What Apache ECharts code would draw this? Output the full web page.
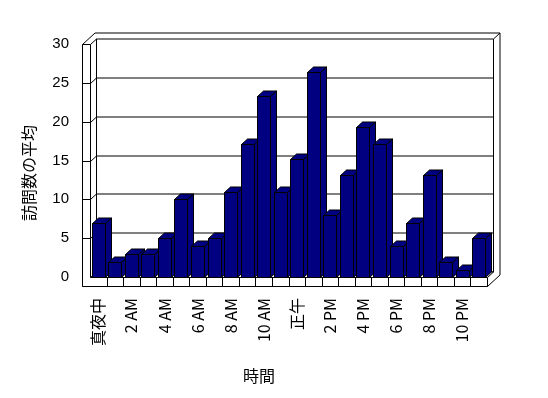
<!DOCTYPE html>
<html>
<head>
<meta charset="utf-8">
<script src="https://cdn.jsdelivr.net/npm/echarts@6/dist/echarts.min.js"></script>
<style>
html,body{margin:0;padding:0;background:#fff;}
#chart{width:548px;height:398px;}
</style>
</head>
<body>
<div id="chart"></div>
<script>
// ---- data ----
const hours = ['真夜中','1 AM','2 AM','3 AM','4 AM','5 AM','6 AM','7 AM','8 AM','9 AM','10 AM','11 AM',
               '正午','1 PM','2 PM','3 PM','4 PM','5 PM','6 PM','7 PM','8 PM','9 PM','10 PM','11 PM'];
const avgVisits = [7, 1.9, 2.9, 2.9, 5, 10, 4, 5, 11, 17.1, 23.3, 11,
                   15.2, 26.4, 8, 13.1, 19.3, 17.1, 4, 7, 13.1, 1.9, 0.9, 5];
const yTicks = [0, 5, 10, 15, 20, 25, 30];
const xTitle = '時間';
const yTitle = '訪問数の平均';

// ---- style constants ----
const BAR = '#000080';
const DX = 6, DY = -5.5;     // depth of the plot box
const BX = 6.5, BY = -6;     // back wall thickness
const SW = 8, SH = 9;        // left wall / floor slab thickness
const px = v => Math.round(v) + 0.5;
const lineStyle = {stroke:'#000', lineWidth:1, fill:null};

const chart = echarts.init(document.getElementById('chart'), null, {renderer:'canvas'});

function frameItem(params, api) {
  const cs = params.coordSys;
  const L = px(cs.x), R = px(cs.x + cs.width), T = px(cs.y), B = px(cs.y + cs.height);
  const cw = api.size([1, 0])[0];
  const ch = [];
  const poly = (pts, fill) => ({type:'polygon', shape:{points:pts}, style:{fill:fill || '#fff', stroke:'#000', lineWidth:1}});
  const line = (x1,y1,x2,y2) => ({type:'line', shape:{x1:x1,y1:y1,x2:x2,y2:y2}, style:lineStyle});
  // outer outline
  ch.push(poly([[L-SW,T],[L-SW+DX+BX,T+DY+BY],[R+DX+BX,T+DY+BY],[R+DX+BX,B+SH+DY+BY],[R,B+SH],[L-SW,B+SH]]));
  // back wall inner face
  ch.push(poly([[L+DX,T+DY],[R+DX,T+DY],[R+DX,B+DY],[L+DX,B+DY]]));
  ch.push(line(R+DX,T+DY,R+DX+BX,T+DY+BY));
  // left wall face
  ch.push(poly([[L,T],[L+DX,T+DY],[L+DX,B+DY],[L,B]]));
  // grid lines on back wall and left wall
  yTicks.forEach(v => {
    if (v === 0 || v === 30) return;
    const y = px(api.coord([0, v])[1]);
    ch.push(line(L+DX, y+DY, R+DX, y+DY));
    ch.push(line(L, y, L+DX, y+DY));
  });
  // floor top
  ch.push(poly([[L,B],[R,B],[R+DX,B+DY],[L+DX,B+DY]]));
  // front slab faces (left wall + floor)
  ch.push(poly([[L-SW,T],[L,T],[L,B],[R,B],[R,B+SH],[L-SW,B+SH]]));
  // y ticks on slab
  yTicks.forEach(v => {
    if (v === 0 || v === 30) return;
    const y = px(api.coord([0, v])[1]);
    ch.push(line(L-SW, y, L, y));
  });
  // category ticks on floor slab
  for (let k = 1; k < hours.length; k++) {
    const x = px(cs.x + k * cw);
    ch.push(line(x, B, x, B+SH));
  }
  return {type:'group', children:ch};
}

function barItem(params, api) {
  const idx = api.value(0);
  const val = api.value(1);
  const topPt = api.coord([idx, val]);
  const basePt = api.coord([idx, 0]);
  const cw = api.size([1, 0])[0];
  const w = Math.round(cw * 0.81);
  const l = px(topPt[0] - w / 2), r = l + w;
  const t = px(topPt[1]), b = px(basePt[1]);
  const st = {fill:BAR, stroke:'#000', lineWidth:1};
  return {type:'group', children:[
    {type:'polygon', shape:{points:[[r,t],[r+DX,t+DY],[r+DX,b+DY],[r,b]]}, style:st},
    {type:'polygon', shape:{points:[[l,t],[r,t],[r+DX,t+DY],[l+DX,t+DY]]}, style:st},
    {type:'rect', shape:{x:l, y:t, width:w, height:b-t}, style:st}
  ]};
}

chart.setOption({
  animation:false,
  backgroundColor:'#fff',
  grid:{left:90, right:61, top:44, bottom:121, containLabel:false},
  xAxis:{
    type:'category', data:hours,
    axisLine:{show:false}, axisTick:{show:false}, splitLine:{show:false},
    axisLabel:{interval:1, rotate:90, margin:21, fontSize:16, color:'#000',
               fontFamily:'Noto Sans CJK JP'}
  },
  yAxis:{
    type:'value', min:0, max:30, interval:5,
    axisLine:{show:false}, axisTick:{show:false}, splitLine:{show:false},
    axisLabel:{margin:21, fontSize:15, color:'#000', fontFamily:'Liberation Sans'}
  },
  graphic:[
    {type:'text', x:29, y:173, rotation:Math.PI/2,
     style:{text:yTitle, fontSize:16, fontFamily:'Noto Sans CJK JP', fill:'#000',
            align:'center', verticalAlign:'middle', textAlign:'center', textVerticalAlign:'middle'}},
    {type:'text', x:259, y:376,
     style:{text:xTitle, fontSize:16, fontFamily:'Noto Sans CJK JP', fill:'#000',
            align:'center', verticalAlign:'middle', textAlign:'center', textVerticalAlign:'middle'}}
  ],
  series:[
    {type:'custom', name:'frame', z:1, clip:false, silent:true,
     renderItem:frameItem, data:[[0, 0]]},
    {type:'custom', name:'訪問数の平均', z:2, clip:false,
     renderItem:barItem, encode:{x:0, y:1},
     data:avgVisits.map((v, i) => [i, v])}
  ]
});
</script>
</body>
</html>
